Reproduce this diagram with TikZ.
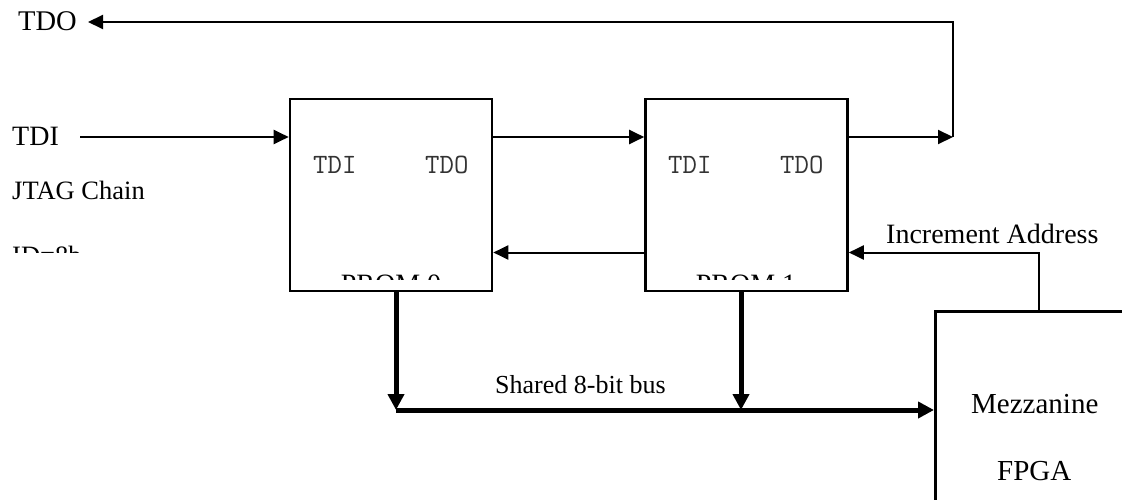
\documentclass[tikz,border=0pt]{standalone}
\usepackage{fontspec}
\setmainfont{Liberation Serif}
\usetikzlibrary{arrows.meta}
\newcommand{\fs}[1]{\fontsize{#1}{#1}\selectfont}
\begin{document}
\begin{tikzpicture}[x=1pt,y=-1pt,
  box/.style={draw,line width=2.6pt,minimum width=202pt,minimum height=192pt,inner sep=0pt},
  sig/.style={line width=2pt,-{Triangle[length=15pt,width=14pt]}},
  bus/.style={line width=5pt,-{Triangle[length=16pt,width=16pt]}},
  lbl/.style={inner sep=0pt,anchor=base west},
  mono/.style={inner sep=0pt,anchor=base west,text=black!80,font=\ttfamily\fs{28}}]
\useasboundingbox (0,0) rectangle (1122,500);
\clip (0,0) rectangle (1122,500);
% boxes
\node[box] (p0) at (391,195) {};
\node[box] (p1) at (746.5,195) {};
\node[draw,line width=2.6pt,minimum width=300pt,minimum height=300pt,inner sep=0pt,anchor=north west] (fpga) at (934,310) {};
% labels
\node[lbl,font=\fs{28.5}] (tdo) at (18,31) {TDO};
\node[lbl,font=\fs{28}] (tdi) at (12,146) {TDI};
\node[lbl,font=\fs{26.5}] (jtag) at (12,200) {JTAG Chain};
\begin{scope}
\clip (0,230) rectangle (300,252);
\node[lbl,font=\fs{26.5}] (id) at (12,264) {ID=8b};
\end{scope}
\node[mono] (p0i) at (313,174) {TDI};
\node[mono] (p0o) at (425,174) {TDO};
\node[mono] (p1i) at (668,174) {TDI};
\node[mono] (p1o) at (780,174) {TDO};
\begin{scope}
\clip (290,260) rectangle (850,279);
\node[inner sep=0pt,anchor=base,font=\fs{28}] (n0) at (391,293) {PROM 0};
\node[inner sep=0pt,anchor=base,font=\fs{28}] (n1) at (746,293) {PROM 1};
\end{scope}
\node[lbl,font=\fs{28}] (inc) at (886,243) {Increment Address};
\node[lbl,font=\fs{26}] (bus) at (495,393) {Shared 8-bit bus};
\node[lbl,font=\fs{29}] (mez) at (971,413) {Mezzanine};
\node[lbl,font=\fs{29}] (fp) at (997,480) {FPGA};
% coordinates
\coordinate (tdiS) at (80,137);
\coordinate (r1) at (953,137);
\coordinate (r2) at (953,22);
\coordinate (tdoE) at (88,22);
\coordinate (incB) at (1039,310);
\coordinate (incT) at (1039,252.5);
\coordinate (b0) at (396,410);
\coordinate (b1) at (741,410);
% signals
\draw[sig] (tdiS) -- (tdiS -| p0.west);
\draw[sig] (p0.east |- tdiS) -- (p1.west |- tdiS);
\draw[sig] (p1.east |- tdiS) -- (r1);
\draw[sig] (r1) -- (r2) -- (tdoE);
\draw[sig] (p1.west |- incT) -- (p0.east |- incT);
\draw[sig] (incB) -- (incT) -- (incT -| p1.east);
% bus
\draw[bus] (b0 |- p0.south) -- (b0);
\draw[bus] (b1 |- p1.south) -- (b1);
\draw[bus] (b0) -- (b0 -| fpga.west);
\end{tikzpicture}
\end{document}
